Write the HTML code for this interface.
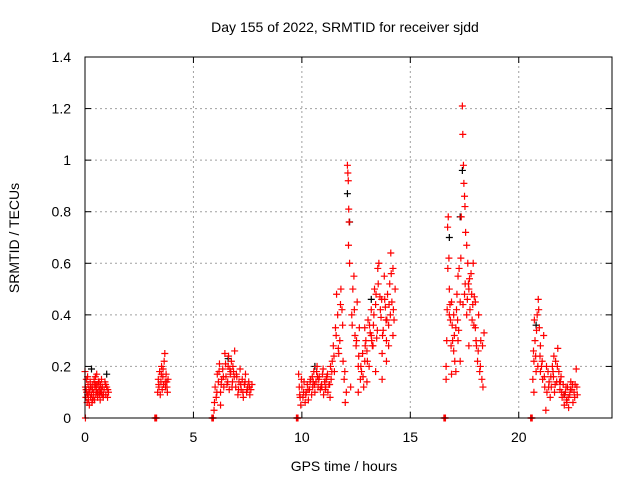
<!DOCTYPE html>
<html><head><meta charset="utf-8"><style>
body{margin:0;background:#fff;}
svg text{font-family:"Liberation Sans",Arial,sans-serif;font-size:14px;fill:#000;}
</style></head><body>
<svg id="chart" width="640" height="480" viewBox="0 0 640 480" xmlns="http://www.w3.org/2000/svg">
<text x="345" y="32" text-anchor="middle">Day 155 of 2022, SRMTID for receiver sjdd</text>
<text transform="translate(19,238) rotate(-90)" text-anchor="middle">SRMTID / TECUs</text>
<text x="344" y="471" text-anchor="middle">GPS time / hours</text>
<g id="grid"></g>
<g id="ticks"></g>
<g id="black"></g>
<g id="red"></g>
<rect x="85" y="57" width="527" height="361" fill="none" stroke="#000" stroke-width="1"/>
</svg>
<script>
const xTicks = [0,5,10,15,20];
const yTicks = [0,0.2,0.4,0.6,0.8,1,1.2,1.4];
const yTickLabels = ["0","0.2","0.4","0.6","0.8","1","1.2","1.4"];
const redHours = [0,.02,.04,.06,.08,.10,.12,.14,.16,.18,.20,.22,.24,.26,.28,.30,.32,.34,.36,.38,.40,.42,.44,.46,.48,.50,.52,.54,.56,.58,.60,.62,.64,.66,.68,.70,.72,.74,.76,.78,.80,.84,.88,.92,.96,1.0,1.04,1.08,.02,
3.25,3.35,3.38,3.41,3.44,3.47,3.50,3.53,3.56,3.59,3.62,3.65,3.68,3.71,3.74,3.77,3.80,3.83,
5.9,5.95,6.0,6.05,6.1,6.15,6.2,6.25,6.3,6.35,6.4,6.45,6.5,6.55,6.6,6.65,6.7,6.75,6.8,6.85,6.9,6.95,7.0,7.05,7.1,7.15,7.2,7.25,7.3,7.35,7.4,7.45,7.5,7.55,7.6,7.65,7.7,6.25,
9.8,9.85,9.9,9.95,10.0,10.05,10.1,10.15,10.2,10.25,10.3,10.35,10.4,10.45,10.5,10.55,10.6,10.65,10.7,10.75,10.8,10.85,10.9,10.95,11.0,11.05,11.1,11.15,11.2,11.25,11.3,11.35,11.4,11.45,11.5,11.55,11.6,11.65,11.7,11.75,11.8,11.85,11.9,11.95,12.0,12.05,12.1,12.12,12.14,12.16,12.18,12.15,12.2,12.25,
12.3,12.35,12.4,12.45,12.5,12.55,12.6,12.65,12.7,12.75,12.8,12.85,12.9,12.95,13.0,13.05,13.1,13.15,13.2,13.25,13.3,13.35,13.4,13.45,13.5,13.55,13.6,13.65,13.7,13.75,13.8,13.85,13.9,13.95,14.0,14.05,14.1,14.15,14.2,14.25,14.3,12.6,13.0,13.4,13.9,14.0,12.9,13.7,14.2,13.2,
16.6,16.65,16.7,16.72,16.75,16.78,16.8,16.85,16.9,16.95,17.0,17.05,17.1,17.15,17.2,17.25,17.3,17.35,17.4,17.42,17.45,17.47,17.5,17.52,17.55,17.6,17.65,17.7,17.75,17.8,17.85,17.9,17.95,18.0,18.05,18.1,18.15,18.2,18.25,18.3,18.35,18.4,16.65,16.9,17.0,17.2,17.3,17.6,17.7,18.0,17.5,16.8,17.1,
20.6,20.65,20.7,20.75,20.8,20.85,20.9,20.95,21.0,21.05,21.1,21.15,21.2,21.25,21.3,21.35,21.4,21.45,21.5,21.55,21.6,21.65,21.7,21.75,21.8,21.85,21.9,21.95,22.0,22.05,22.1,22.15,22.2,22.25,22.3,22.35,22.4,22.45,22.5,22.55,22.6,22.65,22.7,20.7,21.0];
const redValues = [.18,.12,.08,.15,.10,.06,.09,.13,.07,.11,.05,.10,.14,.08,.12,.09,.06,.11,.13,.08,.10,.15,.07,.12,.16,.09,.11,.17,.13,.08,.10,.14,.12,.09,.11,.07,.13,.10,.15,.09,.12,.08,.11,.14,.09,.12,.08,.10,0,
0,.10,.15,.12,.18,.09,.14,.20,.11,.16,.13,.22,.25,.12,.17,.14,.10,.15,
0,.03,.12,.08,.17,.14,.21,.10,.15,.19,.12,.25,.16,.13,.20,.11,.17,.22,.14,.18,.26,.12,.16,.09,.14,.19,.11,.15,.08,.13,.17,.10,.12,.14,.09,.11,.13,.05,
0,.17,.09,.05,.12,.08,.14,.06,.10,.13,.07,.11,.15,.09,.12,.18,.10,.14,.20,.12,.16,.11,.13,.17,.09,.14,.12,.16,.10,.13,.08,.15,.22,.28,.18,.35,.48,.40,.25,.30,.50,.42,.22,.15,.06,.10,.98,.95,.92,.81,.76,.67,.60,.12,
.40,.50,.55,.32,.28,.45,.20,.35,.15,.18,.25,.12,.22,.30,.26,.38,.20,.33,.42,.28,.36,.50,.44,.31,.58,.60,.47,.39,.25,.34,.55,.43,.30,.48,.36,.52,.64,.45,.58,.38,.50,.10,.14,.18,.22,.28,.35,.15,.32,.32,
0,.20,.42,.74,.78,.62,.50,.38,.45,.30,.40,.22,.35,.48,.55,.58,.45,.78,1.21,1.10,.98,.91,.86,.82,.72,.67,.60,.50,.42,.56,.38,.60,.47,.35,.28,.22,.40,.18,.30,.15,.12,.33,.15,.17,.26,.30,.22,.40,.28,.45,.48,.40,.18,
0,.15,.22,.30,.18,.40,.46,.35,.28,.20,.15,.32,.12,.03,.10,.18,.14,.08,.12,.20,.16,.10,.22,.14,.27,.18,.11,.16,.08,.13,.05,.10,.07,.12,.04,.09,.14,.11,.06,.10,.13,.19,.09,.10,.18];
const extraHours = [0.05,0.15,0.25,0.35,0.45,0.55,0.65,0.75,0.85,0.95,1.05,0.12,0.5,0.7,
3.22,3.28,3.3,3.4,3.52,3.6,3.7,3.78,5.85,5.88,5.92,5.97,6.08,6.18,6.28,6.38,6.48,6.58,6.68,6.78,6.88,6.98,7.08,7.18,7.28,7.38,7.48,7.58,6.62,6.72,6.82,
9.75,9.78,9.82,9.88,9.92,9.98,10.08,10.18,10.28,10.38,10.48,10.58,10.68,10.78,10.88,10.98,11.08,11.18,11.28,11.38,11.48,11.58,11.68,11.78,11.88,11.98,10.52,10.72,10.92,11.12,11.32,
12.32,12.42,12.52,12.62,12.72,12.82,12.92,13.02,13.12,13.22,13.32,13.42,13.52,13.62,13.72,13.82,13.92,14.02,14.12,14.22,13.28,13.48,13.68,13.88,14.08,
16.55,16.58,16.62,16.68,16.73,16.83,16.93,17.03,17.13,17.23,17.33,17.43,17.53,17.63,17.73,17.83,17.93,18.03,18.13,18.23,18.33,16.88,17.18,17.68,17.88,
20.55,20.58,20.62,20.68,20.72,20.78,20.82,20.88,20.92,20.98,21.08,21.18,21.28,21.38,21.48,21.58,21.68,21.78,21.88,21.98,22.08,22.18,22.28,22.38,22.48,22.58,22.68,21.62,21.92,22.22];
const extraValues = [.11,.09,.12,.07,.13,.10,.14,.11,.09,.13,.11,.16,.13,.10,
0,0,0,.13,.17,.19,.14,.12,0,0,0,.06,.10,.18,.13,.16,.21,.14,.19,.12,.16,.17,.11,.13,.10,.14,.11,.12,.24,.18,.20,
0,0,0,.12,.08,.15,.10,.09,.11,.14,.16,.13,.18,.15,.12,.19,.11,.17,.13,.18,.24,.32,.27,.44,.36,.18,.14,.16,.12,.15,.20,
.36,.42,.30,.24,.20,.16,.28,.22,.36,.30,.40,.48,.52,.42,.32,.46,.38,.44,.56,.42,.28,.34,.46,.38,.40,
0,0,0,.30,.58,.44,.36,.32,.42,.34,.62,.44,.52,.46,.54,.48,.36,.30,.26,.20,.28,.28,.38,.52,.44,
0,0,0,.26,.38,.24,.34,.20,.42,.24,.22,.16,.20,.12,.16,.18,.13,.20,.14,.10,.09,.12,.08,.11,.13,.08,.12,.24,.14,.06];
const blackHours = [0.3,1.0,6.6,10.6,12.1,12.2,13.2,16.8,17.4,17.3,20.8,22.1];
const blackValues = [.19,.17,.23,.2,.87,.76,.46,.70,.96,.78,.36,.09];

const X0=85,X1=612,Y0=418,Y1=57,XMAX=24.3,YMAX=1.4;
function xScale(v){return X0+(X1-X0)*v/XMAX;}
function yScale(v){return Y0-(Y0-Y1)*v/YMAX;}
const NS="http://www.w3.org/2000/svg";
function mk(tag,attrs,parent){const e=document.createElementNS(NS,tag);for(const k in attrs)e.setAttribute(k,attrs[k]);parent.appendChild(e);return e;}
const grid=document.getElementById('grid'),ticks=document.getElementById('ticks');
xTicks.forEach(function(t){
  const x=xScale(t);
  if(t>0){const g=mk('line',{x1:x,y1:Y0,x2:x,y2:Y1,stroke:'#a0a0a0','stroke-dasharray':'2,3'},grid);
  
  }
  mk('line',{x1:x,y1:Y0,x2:x,y2:Y0-6,stroke:'#000'},ticks);
  mk('line',{x1:x,y1:Y1,x2:x,y2:Y1+6,stroke:'#000'},ticks);
  const l=mk('text',{x:x,y:Y0+24,'text-anchor':'middle'},ticks);l.textContent=t;
  
  
});
yTicks.forEach(function(t,i){
  const y=yScale(t);
  if(t>0&&t<YMAX){const g=mk('line',{x1:X0,y1:y,x2:X1,y2:y,stroke:'#a0a0a0','stroke-dasharray':'2,3'},grid);
  
  }
  mk('line',{x1:X0,y1:y,x2:X0+6,y2:y,stroke:'#000'},ticks);
  mk('line',{x1:X1,y1:y,x2:X1-6,y2:y,stroke:'#000'},ticks);
  const l=mk('text',{x:X0-14,y:y+5,'text-anchor':'end'},ticks);l.textContent=yTickLabels[i];
  
  
});
function plot(hours,vals,gid,color,name){
  const g=document.getElementById(gid);
  hours.forEach(function(h,i){
    const x=xScale(h),y=yScale(vals[i]);
    const p=mk('path',{d:'M'+(x-3.5)+','+y+'H'+(x+3.5)+'M'+x+','+(y-3.5)+'V'+(y+3.5),stroke:color,'stroke-width':1.2,fill:'none'},g);
    
    
  });
}
plot(blackHours,blackValues,'black','#000','black-point');
plot(redHours,redValues,'red','#ff0000','red-point');
plot(extraHours,extraValues,'red','#ff0000','red-point');
</script>
</body></html>
